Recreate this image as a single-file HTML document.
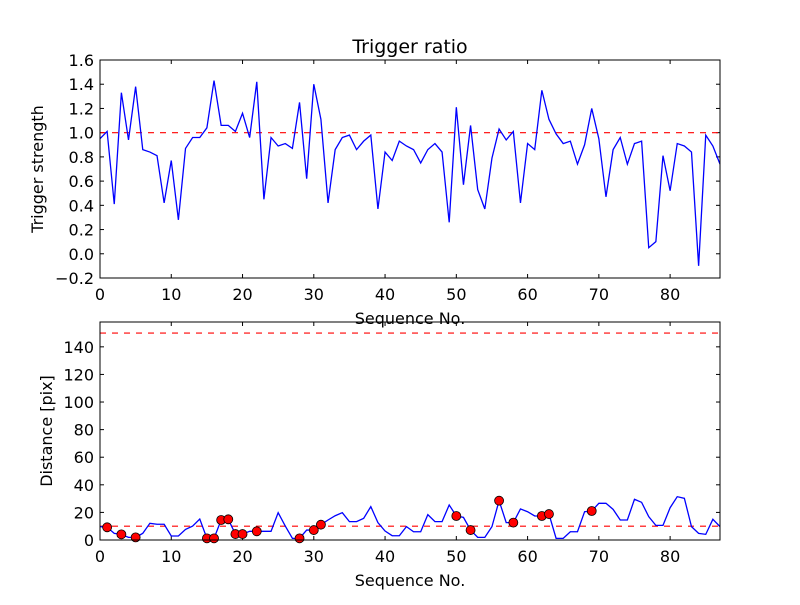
<!DOCTYPE html>
<html><head><meta charset="utf-8"><style>
body{margin:0;background:#fff;}
svg text{font-family:"DejaVu Sans","Liberation Sans",sans-serif;fill:#000;}
</style></head><body>
<svg id="chart" width="800" height="600" xmlns="http://www.w3.org/2000/svg">
<rect width="800" height="600" fill="#fff"/>
</svg>
<script>
const seqIndex = Array.from({length:88},(_,i)=>i);
const triggerStrength = [0.95,1.01,0.41,1.33,0.94,1.38,0.86,0.84,0.81,0.42,0.77,0.28,0.87,0.96,0.96,1.04,1.43,1.06,1.06,1.01,1.16,0.96,1.42,0.45,0.96,0.89,0.91,0.87,1.25,0.62,1.40,1.11,0.42,0.86,0.96,0.98,0.86,0.93,0.98,0.37,0.84,0.77,0.93,0.89,0.86,0.75,0.86,0.91,0.84,0.26,1.21,0.57,1.06,0.53,0.37,0.79,1.03,0.94,1.01,0.42,0.91,0.86,1.35,1.11,0.99,0.91,0.93,0.74,0.90,1.20,0.95,0.47,0.86,0.96,0.74,0.91,0.93,0.05,0.10,0.81,0.52,0.91,0.89,0.84,-0.10,0.98,0.89,0.74];
const distance = [9.7,9.2,4.8,4.1,1.9,1.9,4.8,12.1,11.4,11.4,2.9,2.9,7.7,10.1,15.2,1.2,1.2,14.5,15,4.3,4.3,6.3,6.3,6.3,6.3,19.8,10.1,1.2,1.2,7.2,7.2,11.1,14.5,17.6,19.8,13.3,13.3,15.7,24.2,12.6,6.5,3.1,3.1,9.7,6.0,6.0,18.4,13.3,13.3,25.4,17.4,16.4,7.2,1.9,1.9,9.7,28.5,12.6,12.6,22.5,20.5,17.4,17.4,18.8,1.2,1.2,6.0,6.0,20.5,21.0,26.6,26.6,22.2,14.5,14.5,29.5,27.3,16.9,10.6,10.6,23.4,31.4,30.2,9.7,4.8,4.1,15.0,9.7];
const markerIdx = [1,3,5,15,16,17,18,19,20,22,28,30,31,50,52,56,58,62,63,69];
const xTicks = [0,10,20,30,40,50,60,70,80];
const topYTicks = [-0.2,0.0,0.2,0.4,0.6,0.8,1.0,1.2,1.4,1.6];
const botYTicks = [0,20,40,60,80,100,120,140];
const topThreshold = 1.0, distThreshold = 10, distLimit = 150;

const NS="http://www.w3.org/2000/svg";
const svg=document.getElementById('chart');
function mk(tag,attrs,parent){const e=document.createElementNS(NS,tag);for(const k in attrs)e.setAttribute(k,attrs[k]);(parent||svg).appendChild(e);return e;}
const L=100,R=720;
const sx=v=>L+(v-0)/(87-0)*(R-L);
function drawPanel(top,bot,ymin,ymax,yTicks,fmt,ylabel,name,ylx){
  const sy=v=>bot-(v-ymin)/(ymax-ymin)*(bot-top);
  const g=mk('g',{});
  
  
  xTicks.forEach(t=>{
    const x=sx(t);
    const a=mk('line',{x1:x,x2:x,y1:bot,y2:bot-4,stroke:'#000','stroke-width':1},g);
    
    
    mk('line',{x1:x,x2:x,y1:top,y2:top+4,stroke:'#000','stroke-width':1},g);
    const tx=mk('text',{x:x,y:bot+22,'text-anchor':'middle','font-size':16},g);
    tx.textContent=t;
    
    
  });
  yTicks.forEach(t=>{
    const y=sy(t);
    mk('line',{x1:L,x2:L+4,y1:y,y2:y,stroke:'#000'},g);
    mk('line',{x1:R,x2:R-4,y1:y,y2:y,stroke:'#000'},g);
    const tx=mk('text',{x:L-6,y:y+6,'text-anchor':'end','font-size':16},g);
    tx.textContent=fmt(t);
    
    
  });
  const xl=mk('text',{x:(L+R)/2,y:bot+46,'text-anchor':'middle','font-size':16},g);
  xl.textContent='Sequence No.';
  
  
  const yl=mk('text',{x:ylx,y:(top+bot)/2,'text-anchor':'middle','font-size':16,transform:`rotate(-90 ${ylx} ${(top+bot)/2})`},g);
  yl.textContent=ylabel;
  
  
  return sy;
}
// Top panel
const T1=60,B1=278;
const sy1=drawPanel(T1,B1,-0.2,1.6,topYTicks,t=>t.toFixed(1).replace('-','\u2212'),'Trigger strength','top',43);
let th1=mk('line',{x1:L,x2:R,y1:sy1(topThreshold),y2:sy1(topThreshold),stroke:'#f00','stroke-width':1.2,'stroke-dasharray':'6,6'});


let p1=mk('polyline',{points:triggerStrength.map((v,i)=>sx(seqIndex[i])+','+sy1(v)).join(' '),fill:'none',stroke:'#00f','stroke-width':1.3});


let f1=mk('rect',{x:L,y:T1,width:R-L,height:B1-T1,fill:'none',stroke:'#000','stroke-width':1});


let title=mk('text',{x:(L+R)/2,y:53,'text-anchor':'middle','font-size':19});
title.textContent='Trigger ratio';


// Bottom panel
const T2=322,B2=540;
const sy2=drawPanel(T2,B2,0,158,botYTicks,t=>String(t),'Distance [pix]','bottom',52);
[distThreshold,distLimit].forEach(v=>{
  const l=mk('line',{x1:L,x2:R,y1:sy2(v),y2:sy2(v),stroke:'#f00','stroke-width':1.2,'stroke-dasharray':'6,6'});
  
  
});
let p2=mk('polyline',{points:distance.map((v,i)=>sx(seqIndex[i])+','+sy2(v)).join(' '),fill:'none',stroke:'#00f','stroke-width':1.3});


markerIdx.forEach(i=>{
  const c=mk('circle',{cx:sx(seqIndex[i]),cy:sy2(distance[i]),r:4.5,fill:'#f00',stroke:'#000','stroke-width':0.8});
  
  
});
let f2=mk('rect',{x:L,y:T2,width:R-L,height:B2-T2,fill:'none',stroke:'#000','stroke-width':1});


</script>
</body></html>
